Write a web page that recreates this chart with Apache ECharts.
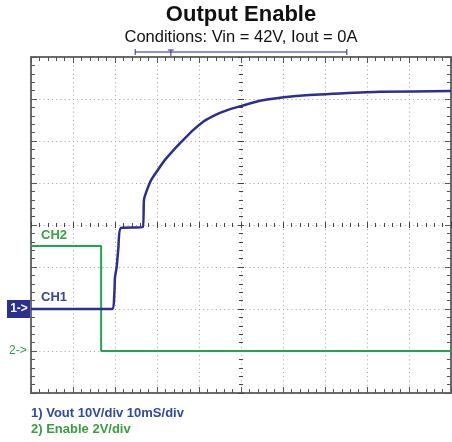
<!DOCTYPE html>
<html>
<head>
<meta charset="utf-8">
<script src="https://cdn.jsdelivr.net/npm/echarts@6/dist/echarts.min.js"></script>
<style>
  html, body { margin: 0; padding: 0; background: #fff; }
  #scope { width: 452px; height: 442px; }
</style>
</head>
<body>
<div id="scope"></div>
<script>
// CH1: Vout (ms, V) - 10V/div
const ch1Time = [0, 19.3, 19.8, 20.0, 20.4, 20.8, 21.4, 26.6, 26.9, 27.6, 28.6, 30.2, 31.9, 34.0, 36.2, 38.6, 41.0, 43.1, 45.0, 47.4, 50.0, 54.5, 59.3, 64.0, 73.6, 83.1, 100];
const ch1Volts = [0, 0, 2.9, 7.6, 10.0, 14.5, 19.3, 19.5, 26.0, 28.3, 30.7, 33.1, 35.5, 37.9, 40.2, 42.6, 44.6, 45.8, 46.7, 47.6, 48.3, 49.6, 50.3, 50.8, 51.3, 51.7, 51.9];
// CH2: Enable (ms, V) - 2V/div
const ch2Time = [0, 16.7, 16.7, 100];
const ch2Volts = [5, 5, 0, 0];
// trigger / screen position bar above the graticule (ms)
const barStart = 24.8, barEnd = 75.2, trigPos = 33.3;

const navy = '#2b2f8f';
const green = '#22a552';
const frame = '#6b6b6b';
const dotted = { color: '#a0a0a0', width: 1, type: [1, 3.2] };

let myChart = echarts.init(document.getElementById('scope'));

const pair = (xs, ys) => xs.map((x, i) => [x, ys[i]]);

// axes on the centre cross-hair: one set of ticks inward, one outward
function centreX(inside) {
  return {
    type: 'value', min: 0, max: 100, interval: 10, position: 'bottom', offset: -168,
    axisLine: { show: false }, axisLabel: { show: false }, splitLine: { show: false },
    axisTick: { inside: inside, length: 3, lineStyle: { color: '#444' } },
    minorTick: { show: true, splitNumber: 5, length: 2, lineStyle: { color: '#444' } }
  };
}
function centreY(inside) {
  return {
    type: 'value', min: -20, max: 60, interval: 10, position: 'left', offset: -210,
    axisLine: { show: false }, axisLabel: { show: false }, splitLine: { show: false },
    axisTick: { inside: inside, length: 3, lineStyle: { color: '#444' } },
    minorTick: { show: true, splitNumber: 5, length: 2, lineStyle: { color: '#444' } }
  };
}
function frameAxis(pos, min, max, interval, split) {
  return {
    type: 'value', min: min, max: max, interval: interval, position: pos,
    axisLine: { show: true, onZero: false, lineStyle: { color: frame, width: 2 } },
    axisLabel: { show: false },
    axisTick: { inside: true, length: 6, lineStyle: { color: '#555' } },
    minorTick: { show: true, splitNumber: 5, length: 4, lineStyle: { color: '#555' } },
    splitLine: { show: split, lineStyle: dotted }
  };
}

myChart.setOption({
  animation: false,
  grid: { left: 31, top: 57, width: 420, height: 336, containLabel: false },
  xAxis: [
    frameAxis('bottom', 0, 100, 10, true),
    frameAxis('top', 0, 100, 10, false),
    centreX(true),
    centreX(false)
  ],
  yAxis: [
    frameAxis('left', -20, 60, 10, true),
    frameAxis('right', -2, 14, 2, false),
    centreY(true),
    centreY(false)
  ],
  series: [
    {
      name: 'CH2', type: 'line', xAxisIndex: 0, yAxisIndex: 1,
      data: pair(ch2Time, ch2Volts), showSymbol: false,
      lineStyle: { color: green, width: 2 }, z: 3
    },
    {
      name: 'CH1', type: 'line', xAxisIndex: 0, yAxisIndex: 0,
      data: pair(ch1Time, ch1Volts), showSymbol: false, smooth: 0.2,
      lineStyle: { color: navy, width: 2.5 }, z: 4
    }
  ]
});

// texts and the scope's markers, placed from the axes' own scales
const px = (t) => myChart.convertToPixel({ xAxisIndex: 0 }, t);
const py1 = (v) => myChart.convertToPixel({ yAxisIndex: 0 }, v);
const py2 = (v) => myChart.convertToPixel({ yAxisIndex: 1 }, v);
const barY = 52;
const font = 'Liberation Sans, Arial, sans-serif';

myChart.setOption({
  graphic: [
    { type: 'text', style: { text: 'Output Enable', x: px(50), y: 15, align: 'center', verticalAlign: 'middle',
      font: 'bold 22px ' + font, fill: '#111' } },
    { type: 'text', style: { text: 'Conditions: Vin = 42V, Iout = 0A', x: px(50), y: 37, align: 'center', verticalAlign: 'middle',
      font: '16.5px ' + font, fill: '#111' } },
    // position bar
    { type: 'line', shape: { x1: px(barStart), y1: barY, x2: px(barEnd), y2: barY }, style: { stroke: '#8f93d3', lineWidth: 2 } },
    { type: 'line', shape: { x1: px(barStart), y1: barY - 3, x2: px(barStart), y2: barY + 3 }, style: { stroke: navy, lineWidth: 1 } },
    { type: 'line', shape: { x1: px(barEnd), y1: barY - 3, x2: px(barEnd), y2: barY + 3 }, style: { stroke: navy, lineWidth: 1 } },
    { type: 'line', shape: { x1: px(trigPos), y1: barY - 2, x2: px(trigPos), y2: barY + 4 }, style: { stroke: navy, lineWidth: 1 } },
    { type: 'line', shape: { x1: px(trigPos) - 3, y1: barY - 2, x2: px(trigPos) + 3, y2: barY - 2 }, style: { stroke: navy, lineWidth: 1 } },
    // channel labels
    { type: 'text', style: { text: 'CH2', x: 41, y: py2(5) - 11, verticalAlign: 'middle', font: 'bold 13px ' + font, fill: '#3a9e45' } },
    { type: 'text', style: { text: 'CH1', x: 41, y: py1(0) - 12, verticalAlign: 'middle', font: 'bold 13px ' + font, fill: '#3446a0' } },
    // ground markers
    { type: 'rect', shape: { x: 7, y: py1(0) - 9, width: 24, height: 18 }, style: { fill: '#2b2f8f' } },
    { type: 'text', style: { text: '1->', x: 19, y: py1(0), align: 'center', verticalAlign: 'middle', font: 'bold 12px ' + font, fill: '#fff' } },
    { type: 'text', style: { text: '2->', x: 9, y: py2(0), verticalAlign: 'middle', font: '12px ' + font, fill: green } },
    // footnotes
    { type: 'text', style: { text: '1) Vout 10V/div 10mS/div', x: 31, y: 413, verticalAlign: 'middle', font: 'bold 13px ' + font, fill: '#2f4a9e' } },
    { type: 'text', style: { text: '2) Enable 2V/div', x: 31, y: 429, verticalAlign: 'middle', font: 'bold 13px ' + font, fill: '#3b9e3f' } }
  ]
});

window.addEventListener('resize', function () {
  myChart.resize();
});
</script>
</body>
</html>
